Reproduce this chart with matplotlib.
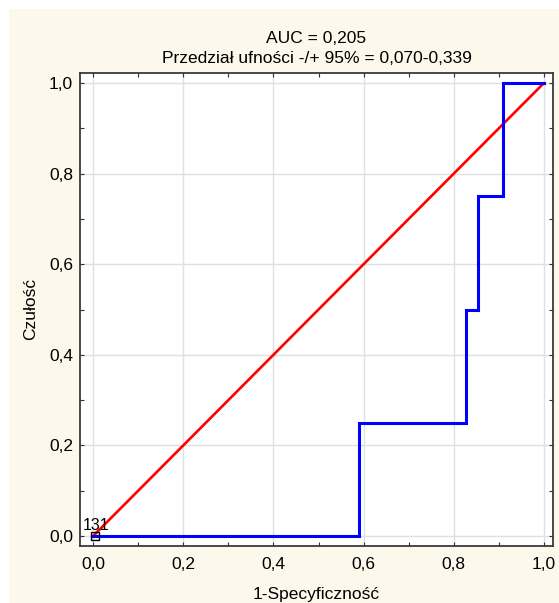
import matplotlib
matplotlib.use("Agg")
import matplotlib.pyplot as plt
from matplotlib.patches import Rectangle
from matplotlib.ticker import MultipleLocator, FuncFormatter

plt.rcParams['font.family'] = ['Liberation Sans', 'DejaVu Sans']

# ROC step curve (1-specificity, sensitivity)
roc_x = [0.0, 0.59, 0.59, 0.826, 0.826, 0.853, 0.853, 0.909, 0.909, 1.0]
roc_y = [0.0, 0.0, 0.25, 0.25, 0.5, 0.5, 0.75, 0.75, 1.0, 1.0]
ref_x = [0.0, 1.0]
ref_y = [0.0, 1.0]
cut_label = "131"
cut_x = [0.004]
cut_y = [0.0]

title = "AUC = 0,205\nPrzedział ufności -/+ 95% = 0,070-0,339"

W, H = 559, 603
fig = plt.figure(figsize=(W / 100, H / 100), dpi=100, facecolor="white")
fig.patches.append(Rectangle((9 / W, 0), 1 - 9 / W, 1 - 9 / H, transform=fig.transFigure,
                             facecolor="#fdf8ec", edgecolor="none", zorder=-10))

ax = fig.add_axes([80 / W, 1 - 546 / H, (553 - 80) / W, (546 - 73) / H])
ax.set_facecolor("white")

ax.plot(ref_x, ref_y, color="#ff0000", lw=1.9, zorder=3, solid_capstyle="butt")
ax.plot(roc_x, roc_y, color="#0000ff", lw=2.2, zorder=4, solid_joinstyle="miter")
ax.plot(cut_x, cut_y, marker="s", ms=6, mfc="none", mec="black", mew=1.0, ls="none", zorder=5)
ax.annotate(cut_label, (cut_x[0], cut_y[0]), xytext=(-9, 4.5), textcoords="offset points",
            fontsize=11.5, ha="left", va="baseline", zorder=6)

ax.set_xlim(-0.029, 1.02)
ax.set_ylim(-0.022, 1.022)

fmt = FuncFormatter(lambda v, p: f"{v:.1f}".replace(".", ","))
ax.xaxis.set_major_locator(MultipleLocator(0.2))
ax.yaxis.set_major_locator(MultipleLocator(0.2))
ax.xaxis.set_minor_locator(MultipleLocator(0.1))
ax.yaxis.set_minor_locator(MultipleLocator(0.1))
ax.xaxis.set_major_formatter(fmt)
ax.yaxis.set_major_formatter(fmt)

ax.tick_params(which="both", direction="in", top=True, right=True, length=3, width=0.8,
               color="#333333", labelsize=12.5)
ax.tick_params(axis="x", pad=8)
ax.tick_params(axis="y", pad=5)
ax.grid(True, which="major", color="#e0e0e0", lw=1.0, zorder=0)
ax.set_axisbelow(True)

for s in ax.spines.values():
    s.set_color("#3a3a3a")
    s.set_linewidth(1.3)

ax.set_title(title, fontsize=12.5, pad=7, linespacing=1.45)
ax.set_xlabel("1-Specyficzność", fontsize=12.5, labelpad=11)
ax.set_ylabel("Czułość", fontsize=12.5, labelpad=8)

fig.savefig("out.png", dpi=100, facecolor=fig.get_facecolor())
